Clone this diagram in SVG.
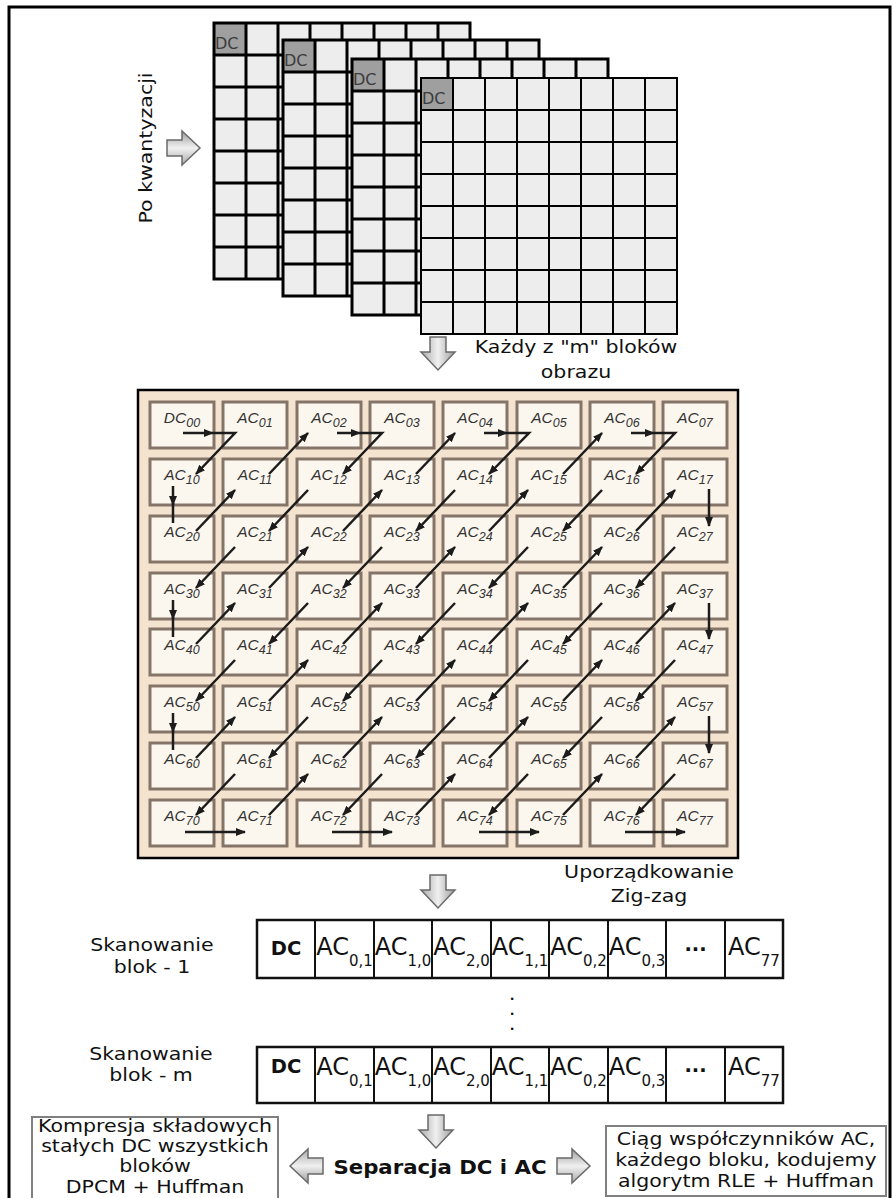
<svg xmlns="http://www.w3.org/2000/svg" xmlns:xlink="http://www.w3.org/1999/xlink" width="893" height="1198" viewBox="0 0 893 1198">
<style>
.t{font-family:"DejaVu Sans",Verdana,sans-serif;font-size:18px;fill:#111;text-anchor:middle}
.tb{font-weight:bold}
.dc{font-family:"DejaVu Sans",sans-serif;font-size:16px;fill:#3c3c3c}
.bg{fill:#ededed}
.dcc{fill:#9f9f9f}
.gl{fill:none;stroke:#000}
.cell{fill:#fbf7ee;stroke:#857568;stroke-width:3}
.lab{font-family:"Liberation Sans",Arial,sans-serif;font-style:italic;font-size:15.5px;fill:#333;text-anchor:middle}
.sub{font-size:12.5px}
.ln{stroke:#1c1c1c;stroke-width:2.5;fill:none}
.ah{marker-end:url(#ah)}
.sq{fill:#fff;stroke:#111;stroke-width:2.5}
.sl{stroke:#111;stroke-width:2;fill:none}
.big{fill:url(#gg);stroke:#6a6a6a;stroke-width:1.5}
.box{fill:#fff;stroke:#808080;stroke-width:2}
.ac{font-family:"DejaVu Sans",sans-serif;font-size:24px;fill:#111;text-anchor:middle}
.s14{font-size:15px}
.dcb{font-family:"DejaVu Sans",sans-serif;font-size:19.5px;font-weight:bold;fill:#111;text-anchor:middle}
</style>
<defs>
<marker id="ah" markerUnits="userSpaceOnUse" markerWidth="11" markerHeight="9" refX="9" refY="4" orient="auto">
<path d="M0,0 L10,4 L0,8 Z" fill="#1c1c1c"/>
</marker>
<linearGradient id="gg" x1="0" y1="0" x2="1" y2="0">
<stop offset="0" stop-color="#a9a9a9"/>
<stop offset="0.5" stop-color="#f0f0f0"/>
<stop offset="1" stop-color="#9c9c9c"/>
</linearGradient>
<path id="bigArrow" class="big" d="M9,0 H25 V15 H34 L17,33 L0,15 H9 Z"/>
<g id="grid">
<rect class="bg" width="256" height="256"/>
<rect class="dcc" width="32" height="32"/>
<text class="dc" x="1" y="26">DC</text>
<path class="gl" d="M0,0H256V256H0Z M32,0V256 M64,0V256 M96,0V256 M128,0V256 M160,0V256 M192,0V256 M224,0V256 M0,32H256 M0,64H256 M0,96H256 M0,128H256 M0,160H256 M0,192H256 M0,224H256"/>
</g>
<line id="ur" class="ln ah" x1="0" y1="0" x2="39" y2="-41"/>
<line id="dl" class="ln ah" x1="39" y1="-41" x2="0" y2="0"/>
</defs>

<g id="frame">
<path d="M9,1198 V7 H890 V1198" fill="none" stroke="#000" stroke-width="3"/>
</g>

<g id="block-1"><use xlink:href="#grid" x="214" y="23" stroke-width="3"/></g>
<g id="block-2"><use xlink:href="#grid" x="283" y="40" stroke-width="3"/></g>
<g id="block-3"><use xlink:href="#grid" x="352" y="59" stroke-width="3"/></g>
<g id="block-4"><use xlink:href="#grid" x="421" y="78" stroke-width="2"/></g>

<g id="label-kwant">
<text class="t" transform="translate(152,148) rotate(-90) scale(1.14,1)">Po kwantyzacji</text>
</g>
<g id="label-kazdy">
<text class="t" transform="translate(576,353) scale(1.14,1)">Każdy z "m" bloków<tspan x="0" dy="25">obrazu</tspan></text>
</g>

<g id="zigzag">
<rect x="138" y="390" width="600" height="468" fill="#f4e4cf" stroke="#000" stroke-width="2.5"/>
</g>

<g id="cells">
<g id="z00"><rect class="cell" x="150" y="402" width="64" height="46"/><text class="lab" x="182" y="423">DC<tspan class="sub" dy="4">00</tspan></text></g>
<g id="z01"><rect class="cell" x="223" y="402" width="64" height="46"/><text class="lab" x="255" y="423">AC<tspan class="sub" dy="4">01</tspan></text></g>
<g id="z02"><rect class="cell" x="297" y="402" width="64" height="46"/><text class="lab" x="329" y="423">AC<tspan class="sub" dy="4">02</tspan></text></g>
<g id="z03"><rect class="cell" x="370" y="402" width="64" height="46"/><text class="lab" x="402" y="423">AC<tspan class="sub" dy="4">03</tspan></text></g>
<g id="z04"><rect class="cell" x="443" y="402" width="64" height="46"/><text class="lab" x="475" y="423">AC<tspan class="sub" dy="4">04</tspan></text></g>
<g id="z05"><rect class="cell" x="517" y="402" width="64" height="46"/><text class="lab" x="549" y="423">AC<tspan class="sub" dy="4">05</tspan></text></g>
<g id="z06"><rect class="cell" x="590" y="402" width="64" height="46"/><text class="lab" x="622" y="423">AC<tspan class="sub" dy="4">06</tspan></text></g>
<g id="z07"><rect class="cell" x="663" y="402" width="64" height="46"/><text class="lab" x="695" y="423">AC<tspan class="sub" dy="4">07</tspan></text></g>

<g id="z10"><rect class="cell" x="150" y="459" width="64" height="46"/><text class="lab" x="182" y="480">AC<tspan class="sub" dy="4">10</tspan></text></g>
<g id="z11"><rect class="cell" x="223" y="459" width="64" height="46"/><text class="lab" x="255" y="480">AC<tspan class="sub" dy="4">11</tspan></text></g>
<g id="z12"><rect class="cell" x="297" y="459" width="64" height="46"/><text class="lab" x="329" y="480">AC<tspan class="sub" dy="4">12</tspan></text></g>
<g id="z13"><rect class="cell" x="370" y="459" width="64" height="46"/><text class="lab" x="402" y="480">AC<tspan class="sub" dy="4">13</tspan></text></g>
<g id="z14"><rect class="cell" x="443" y="459" width="64" height="46"/><text class="lab" x="475" y="480">AC<tspan class="sub" dy="4">14</tspan></text></g>
<g id="z15"><rect class="cell" x="517" y="459" width="64" height="46"/><text class="lab" x="549" y="480">AC<tspan class="sub" dy="4">15</tspan></text></g>
<g id="z16"><rect class="cell" x="590" y="459" width="64" height="46"/><text class="lab" x="622" y="480">AC<tspan class="sub" dy="4">16</tspan></text></g>
<g id="z17"><rect class="cell" x="663" y="459" width="64" height="46"/><text class="lab" x="695" y="480">AC<tspan class="sub" dy="4">17</tspan></text></g>

<g id="z20"><rect class="cell" x="150" y="516" width="64" height="46"/><text class="lab" x="182" y="537">AC<tspan class="sub" dy="4">20</tspan></text></g>
<g id="z21"><rect class="cell" x="223" y="516" width="64" height="46"/><text class="lab" x="255" y="537">AC<tspan class="sub" dy="4">21</tspan></text></g>
<g id="z22"><rect class="cell" x="297" y="516" width="64" height="46"/><text class="lab" x="329" y="537">AC<tspan class="sub" dy="4">22</tspan></text></g>
<g id="z23"><rect class="cell" x="370" y="516" width="64" height="46"/><text class="lab" x="402" y="537">AC<tspan class="sub" dy="4">23</tspan></text></g>
<g id="z24"><rect class="cell" x="443" y="516" width="64" height="46"/><text class="lab" x="475" y="537">AC<tspan class="sub" dy="4">24</tspan></text></g>
<g id="z25"><rect class="cell" x="517" y="516" width="64" height="46"/><text class="lab" x="549" y="537">AC<tspan class="sub" dy="4">25</tspan></text></g>
<g id="z26"><rect class="cell" x="590" y="516" width="64" height="46"/><text class="lab" x="622" y="537">AC<tspan class="sub" dy="4">26</tspan></text></g>
<g id="z27"><rect class="cell" x="663" y="516" width="64" height="46"/><text class="lab" x="695" y="537">AC<tspan class="sub" dy="4">27</tspan></text></g>

<g id="z30"><rect class="cell" x="150" y="573" width="64" height="46"/><text class="lab" x="182" y="594">AC<tspan class="sub" dy="4">30</tspan></text></g>
<g id="z31"><rect class="cell" x="223" y="573" width="64" height="46"/><text class="lab" x="255" y="594">AC<tspan class="sub" dy="4">31</tspan></text></g>
<g id="z32"><rect class="cell" x="297" y="573" width="64" height="46"/><text class="lab" x="329" y="594">AC<tspan class="sub" dy="4">32</tspan></text></g>
<g id="z33"><rect class="cell" x="370" y="573" width="64" height="46"/><text class="lab" x="402" y="594">AC<tspan class="sub" dy="4">33</tspan></text></g>
<g id="z34"><rect class="cell" x="443" y="573" width="64" height="46"/><text class="lab" x="475" y="594">AC<tspan class="sub" dy="4">34</tspan></text></g>
<g id="z35"><rect class="cell" x="517" y="573" width="64" height="46"/><text class="lab" x="549" y="594">AC<tspan class="sub" dy="4">35</tspan></text></g>
<g id="z36"><rect class="cell" x="590" y="573" width="64" height="46"/><text class="lab" x="622" y="594">AC<tspan class="sub" dy="4">36</tspan></text></g>
<g id="z37"><rect class="cell" x="663" y="573" width="64" height="46"/><text class="lab" x="695" y="594">AC<tspan class="sub" dy="4">37</tspan></text></g>

<g id="z40"><rect class="cell" x="150" y="629" width="64" height="46"/><text class="lab" x="182" y="650">AC<tspan class="sub" dy="4">40</tspan></text></g>
<g id="z41"><rect class="cell" x="223" y="629" width="64" height="46"/><text class="lab" x="255" y="650">AC<tspan class="sub" dy="4">41</tspan></text></g>
<g id="z42"><rect class="cell" x="297" y="629" width="64" height="46"/><text class="lab" x="329" y="650">AC<tspan class="sub" dy="4">42</tspan></text></g>
<g id="z43"><rect class="cell" x="370" y="629" width="64" height="46"/><text class="lab" x="402" y="650">AC<tspan class="sub" dy="4">43</tspan></text></g>
<g id="z44"><rect class="cell" x="443" y="629" width="64" height="46"/><text class="lab" x="475" y="650">AC<tspan class="sub" dy="4">44</tspan></text></g>
<g id="z45"><rect class="cell" x="517" y="629" width="64" height="46"/><text class="lab" x="549" y="650">AC<tspan class="sub" dy="4">45</tspan></text></g>
<g id="z46"><rect class="cell" x="590" y="629" width="64" height="46"/><text class="lab" x="622" y="650">AC<tspan class="sub" dy="4">46</tspan></text></g>
<g id="z47"><rect class="cell" x="663" y="629" width="64" height="46"/><text class="lab" x="695" y="650">AC<tspan class="sub" dy="4">47</tspan></text></g>

<g id="z50"><rect class="cell" x="150" y="686" width="64" height="46"/><text class="lab" x="182" y="707">AC<tspan class="sub" dy="4">50</tspan></text></g>
<g id="z51"><rect class="cell" x="223" y="686" width="64" height="46"/><text class="lab" x="255" y="707">AC<tspan class="sub" dy="4">51</tspan></text></g>
<g id="z52"><rect class="cell" x="297" y="686" width="64" height="46"/><text class="lab" x="329" y="707">AC<tspan class="sub" dy="4">52</tspan></text></g>
<g id="z53"><rect class="cell" x="370" y="686" width="64" height="46"/><text class="lab" x="402" y="707">AC<tspan class="sub" dy="4">53</tspan></text></g>
<g id="z54"><rect class="cell" x="443" y="686" width="64" height="46"/><text class="lab" x="475" y="707">AC<tspan class="sub" dy="4">54</tspan></text></g>
<g id="z55"><rect class="cell" x="517" y="686" width="64" height="46"/><text class="lab" x="549" y="707">AC<tspan class="sub" dy="4">55</tspan></text></g>
<g id="z56"><rect class="cell" x="590" y="686" width="64" height="46"/><text class="lab" x="622" y="707">AC<tspan class="sub" dy="4">56</tspan></text></g>
<g id="z57"><rect class="cell" x="663" y="686" width="64" height="46"/><text class="lab" x="695" y="707">AC<tspan class="sub" dy="4">57</tspan></text></g>

<g id="z60"><rect class="cell" x="150" y="743" width="64" height="46"/><text class="lab" x="182" y="764">AC<tspan class="sub" dy="4">60</tspan></text></g>
<g id="z61"><rect class="cell" x="223" y="743" width="64" height="46"/><text class="lab" x="255" y="764">AC<tspan class="sub" dy="4">61</tspan></text></g>
<g id="z62"><rect class="cell" x="297" y="743" width="64" height="46"/><text class="lab" x="329" y="764">AC<tspan class="sub" dy="4">62</tspan></text></g>
<g id="z63"><rect class="cell" x="370" y="743" width="64" height="46"/><text class="lab" x="402" y="764">AC<tspan class="sub" dy="4">63</tspan></text></g>
<g id="z64"><rect class="cell" x="443" y="743" width="64" height="46"/><text class="lab" x="475" y="764">AC<tspan class="sub" dy="4">64</tspan></text></g>
<g id="z65"><rect class="cell" x="517" y="743" width="64" height="46"/><text class="lab" x="549" y="764">AC<tspan class="sub" dy="4">65</tspan></text></g>
<g id="z66"><rect class="cell" x="590" y="743" width="64" height="46"/><text class="lab" x="622" y="764">AC<tspan class="sub" dy="4">66</tspan></text></g>
<g id="z67"><rect class="cell" x="663" y="743" width="64" height="46"/><text class="lab" x="695" y="764">AC<tspan class="sub" dy="4">67</tspan></text></g>

<g id="z70"><rect class="cell" x="150" y="800" width="64" height="46"/><text class="lab" x="182" y="821">AC<tspan class="sub" dy="4">70</tspan></text></g>
<g id="z71"><rect class="cell" x="223" y="800" width="64" height="46"/><text class="lab" x="255" y="821">AC<tspan class="sub" dy="4">71</tspan></text></g>
<g id="z72"><rect class="cell" x="297" y="800" width="64" height="46"/><text class="lab" x="329" y="821">AC<tspan class="sub" dy="4">72</tspan></text></g>
<g id="z73"><rect class="cell" x="370" y="800" width="64" height="46"/><text class="lab" x="402" y="821">AC<tspan class="sub" dy="4">73</tspan></text></g>
<g id="z74"><rect class="cell" x="443" y="800" width="64" height="46"/><text class="lab" x="475" y="821">AC<tspan class="sub" dy="4">74</tspan></text></g>
<g id="z75"><rect class="cell" x="517" y="800" width="64" height="46"/><text class="lab" x="549" y="821">AC<tspan class="sub" dy="4">75</tspan></text></g>
<g id="z76"><rect class="cell" x="590" y="800" width="64" height="46"/><text class="lab" x="622" y="821">AC<tspan class="sub" dy="4">76</tspan></text></g>
<g id="z77"><rect class="cell" x="663" y="800" width="64" height="46"/><text class="lab" x="695" y="821">AC<tspan class="sub" dy="4">77</tspan></text></g>
</g>

<g id="connectors">
<path class="ln ah" d="M183,433 H213"/>
<path class="ln ah" d="M213,433 H235 L196,474"/>
<path class="ln ah" d="M337,433 H360"/>
<path class="ln ah" d="M360,433 H382 L343,474"/>
<path class="ln ah" d="M484,433 H507"/>
<path class="ln ah" d="M507,433 H529 L489,474"/>
<path class="ln ah" d="M631,433 H654"/>
<path class="ln ah" d="M654,433 H675 L636,474"/>
<path class="ln ah" d="M173,486 V505"/><path class="ln" d="M173,503 V523"/>
<path class="ln ah" d="M173,600 V619"/><path class="ln" d="M173,617 V637"/>
<path class="ln ah" d="M173,713 V732"/><path class="ln" d="M173,730 V750"/>
<path class="ln ah" d="M709,489 V526"/>
<path class="ln ah" d="M709,603 V639"/>
<path class="ln ah" d="M709,716 V753"/>
<path class="ln ah" d="M185,832 H245"/>
<path class="ln ah" d="M332,832 H392"/>
<path class="ln ah" d="M479,832 H539"/>
<path class="ln ah" d="M625,832 H685"/>
<use xlink:href="#ur" x="269" y="474"/><use xlink:href="#ur" x="416" y="474"/><use xlink:href="#ur" x="563" y="474"/>
<use xlink:href="#ur" x="196" y="531"/><use xlink:href="#dl" x="269" y="531"/><use xlink:href="#ur" x="343" y="531"/><use xlink:href="#dl" x="416" y="531"/><use xlink:href="#ur" x="489" y="531"/><use xlink:href="#dl" x="563" y="531"/><use xlink:href="#ur" x="636" y="531"/>
<use xlink:href="#dl" x="196" y="588"/><use xlink:href="#ur" x="269" y="588"/><use xlink:href="#dl" x="343" y="588"/><use xlink:href="#ur" x="416" y="588"/><use xlink:href="#dl" x="489" y="588"/><use xlink:href="#ur" x="563" y="588"/><use xlink:href="#dl" x="636" y="588"/>
<use xlink:href="#ur" x="196" y="644"/><use xlink:href="#dl" x="269" y="644"/><use xlink:href="#ur" x="343" y="644"/><use xlink:href="#dl" x="416" y="644"/><use xlink:href="#ur" x="489" y="644"/><use xlink:href="#dl" x="563" y="644"/><use xlink:href="#ur" x="636" y="644"/>
<use xlink:href="#dl" x="196" y="701"/><use xlink:href="#ur" x="269" y="701"/><use xlink:href="#dl" x="343" y="701"/><use xlink:href="#ur" x="416" y="701"/><use xlink:href="#dl" x="489" y="701"/><use xlink:href="#ur" x="563" y="701"/><use xlink:href="#dl" x="636" y="701"/>
<use xlink:href="#ur" x="196" y="758"/><use xlink:href="#dl" x="269" y="758"/><use xlink:href="#ur" x="343" y="758"/><use xlink:href="#dl" x="416" y="758"/><use xlink:href="#ur" x="489" y="758"/><use xlink:href="#dl" x="563" y="758"/><use xlink:href="#ur" x="636" y="758"/>
<use xlink:href="#dl" x="196" y="815"/><use xlink:href="#ur" x="269" y="815"/><use xlink:href="#dl" x="343" y="815"/><use xlink:href="#ur" x="416" y="815"/><use xlink:href="#dl" x="489" y="815"/><use xlink:href="#ur" x="563" y="815"/><use xlink:href="#dl" x="636" y="815"/>
<use xlink:href="#bigArrow" transform="translate(167,165) rotate(-90)"/>
<use xlink:href="#bigArrow" transform="translate(421,337)"/>
<use xlink:href="#bigArrow" transform="translate(421,875)"/>
<use xlink:href="#bigArrow" transform="translate(419,1115)"/>
<use xlink:href="#bigArrow" transform="translate(323,1149) rotate(90)"/>
<use xlink:href="#bigArrow" transform="translate(557,1183) rotate(-90)"/>
</g>

<g id="label-zigzag">
<text class="t" transform="translate(649,878) scale(1.14,1)">Uporządkowanie<tspan x="0" dy="24">Zig-zag</tspan></text>
</g>

<g id="row-1">
<text class="t" transform="translate(152,951) scale(1.14,1)">Skanowanie<tspan x="0" dy="22">blok - 1</tspan></text>
<rect class="sq" x="257" y="920" width="526" height="58"/>
<path class="sl" d="M315,920V978M374,920V978M432,920V978M491,920V978M549,920V978M608,920V978M666,920V978M725,920V978"/>
<text class="dcb" x="286" y="955">DC</text>
<text class="ac" x="344.5" y="955">AC<tspan class="s14" dy="11">0,1</tspan></text>
<text class="ac" x="403" y="955">AC<tspan class="s14" dy="11">1,0</tspan></text>
<text class="ac" x="461.5" y="955">AC<tspan class="s14" dy="11">2,0</tspan></text>
<text class="ac" x="520" y="955">AC<tspan class="s14" dy="11">1,1</tspan></text>
<text class="ac" x="578.5" y="955">AC<tspan class="s14" dy="11">0,2</tspan></text>
<text class="ac" x="637" y="955">AC<tspan class="s14" dy="11">0,3</tspan></text>
<text class="dcb" x="695.5" y="951">...</text>
<text class="ac" x="754" y="955">AC<tspan class="s14" dy="11">77</tspan></text>
</g>

<g id="ellipsis">
<text class="dcb" x="512" y="1000" style="font-size:12.5px">.<tspan x="512" dy="15">.</tspan><tspan x="512" dy="15">.</tspan></text>
</g>

<g id="row-m">
<text class="t" transform="translate(151,1060) scale(1.14,1)">Skanowanie<tspan x="0" dy="21.3">blok - m</tspan></text>
<rect class="sq" x="257" y="1047" width="526" height="56"/>
<path class="sl" d="M315,1047V1103M374,1047V1103M432,1047V1103M491,1047V1103M549,1047V1103M608,1047V1103M666,1047V1103M725,1047V1103"/>
<text class="dcb" x="286" y="1073">DC</text>
<text class="ac" x="344.5" y="1075">AC<tspan class="s14" dy="11">0,1</tspan></text>
<text class="ac" x="403" y="1075">AC<tspan class="s14" dy="11">1,0</tspan></text>
<text class="ac" x="461.5" y="1075">AC<tspan class="s14" dy="11">2,0</tspan></text>
<text class="ac" x="520" y="1075">AC<tspan class="s14" dy="11">1,1</tspan></text>
<text class="ac" x="578.5" y="1075">AC<tspan class="s14" dy="11">0,2</tspan></text>
<text class="ac" x="637" y="1075">AC<tspan class="s14" dy="11">0,3</tspan></text>
<text class="dcb" x="695.5" y="1072">...</text>
<text class="ac" x="754" y="1075">AC<tspan class="s14" dy="11">77</tspan></text>
</g>

<g id="separacja">
<text class="t tb" transform="translate(440,1174) scale(1.12,1)" style="font-size:19px">Separacja DC i AC</text>
</g>

<g id="box-dc">
<rect class="box" x="32" y="1117" width="246" height="92"/>
<text class="t" transform="translate(155,1131.5) scale(1.18,1)" style="font-size:17.4px">Kompresja składowych<tspan x="0" dy="20.5">stałych DC wszystkich</tspan><tspan x="0" dy="20.5">bloków</tspan><tspan x="0" dy="20.5">DPCM + Huffman</tspan></text>
</g>

<g id="box-ac">
<rect class="box" x="606" y="1126" width="280" height="70"/>
<text class="t" transform="translate(746,1145) scale(1.14,1)">Ciąg współczynników AC,<tspan x="0" dy="21.2">każdego bloku, kodujemy</tspan><tspan x="0" dy="21.2">algorytm RLE + Huffman</tspan></text>
</g>
</svg>
